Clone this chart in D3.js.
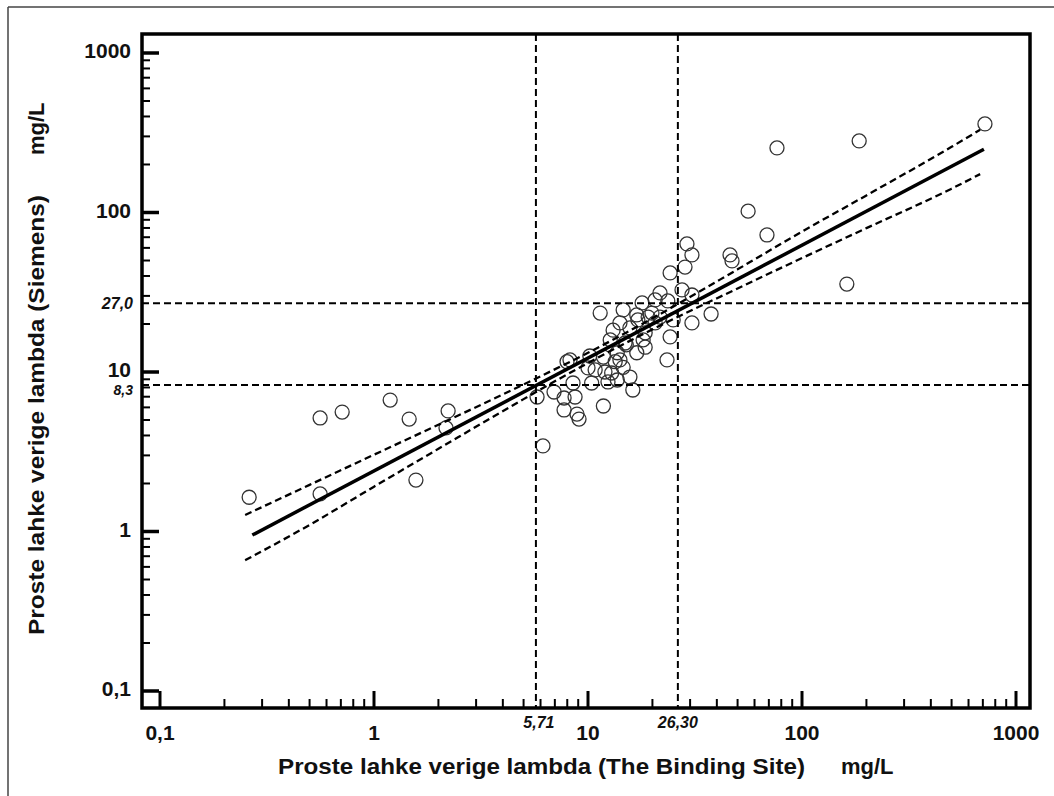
<!DOCTYPE html>
<html>
<head>
<meta charset="utf-8">
<script src="https://cdn.jsdelivr.net/npm/d3@7/dist/d3.min.js"></script>
<style>
  html, body { margin: 0; padding: 0; background: #fff; }
  svg { display: block; }
  text { font-family: "Liberation Sans", Arial, sans-serif; font-weight: bold; fill: #111; }
</style>
</head>
<body>
<svg id="chart" width="1054" height="796"></svg>
<script>
// Free lambda light chains: The Binding Site (x) vs Siemens (y), mg/L
const pointsX = [
  0.261, 0.56, 0.56, 0.71, 1.19, 1.46, 1.57, 2.22, 2.17,
  716, 185, 76.4, 56, 68.6, 46.1, 47.1, 162,
  29.0, 30.6, 28.4, 27.5, 30.6, 37.6, 30.6,
  24.2, 11.4, 14.6, 17.9, 20.6, 21.7, 23.6, 14.1, 16.9, 19.9,
  20.6, 13.1, 15.7, 18.5, 24.2, 25.0, 18.1, 18.5, 23.4, 12.7,
  14.9, 11.8, 14.1, 16.9, 14.6, 12.0, 10.8, 13.7, 15.7, 16.2,
  8.24, 7.98, 10.0, 13.4, 12.4, 10.4, 8.51, 6.94, 5.78, 7.73,
  8.70, 7.73, 8.88, 9.08, 11.8, 6.16, 12.9, 21.7, 17.1, 15.1,
  19.1, 13.7, 10.2
];
const pointsY = [
  1.64, 1.72, 5.15, 5.61, 6.67, 5.07, 2.10, 5.7, 4.46,
  359, 281, 254, 102, 72.3, 54.2, 49.7, 35.6,
  63.5, 54.2, 45.5, 32.7, 30.4, 23.1, 20.3,
  41.8, 23.4, 24.5, 27.1, 28.3, 31.3, 27.9, 20.3, 22.8, 23.4,
  20.3, 18.3, 18.9, 17.6, 16.6, 21.2, 15.9, 14.3, 11.9, 15.9,
  15.2, 12.4, 11.9, 13.2, 10.7, 10.0, 10.3, 8.91, 9.30, 7.71,
  11.9, 11.6, 10.6, 11.6, 8.66, 8.53, 8.53, 7.49, 6.97, 6.87,
  6.97, 5.78, 5.45, 5.07, 6.12, 3.44, 9.86, 22.1, 21.2, 14.8,
  22.1, 13.2, 12.6
];

// Regression line end points
const fitX = [0.27, 708];
const fitY = [0.95, 249];

// 95% confidence band
const bandX     = [0.25, 0.5, 1, 2, 5, 10, 20, 50, 100, 200, 500, 680];
const bandUpper = [1.27, 1.96, 3.03, 4.67, 8.35, 13.2, 21.7, 44.0, 75.9, 128, 258, 330];
const bandLower = [0.66, 1.10, 1.91, 3.30, 6.76, 11.4, 18.5, 33.4, 51.8, 79.8, 141, 174];

// Cut-off values
const cutX = [5.71, 26.30];
const cutXLabels = ["5,71", "26,30"];
const cutY = [27.0, 8.3];
const cutYLabels = ["27,0", "8,3"];

// Decade labels
const decades = [0.1, 1, 10, 100, 1000];
const decadeLabels = ["0,1", "1", "10", "100", "1000"];

const xTitle = "Proste lahke verige lambda (The Binding Site)";
const yTitle = "Proste lahke verige lambda (Siemens)";
const unit = "mg/L";

const svg = d3.select("#chart");

const frame = { left: 142, right: 1030, top: 34, bottom: 708 };
const x = d3.scaleLog().domain([0.1, 1000]).range([160, 1016]);
const y = d3.scaleLog().domain([0.1, 1000]).range([691, 53]);

// outer border lines
svg.append("line").attr("x1", 8).attr("x2", 8).attr("y1", 7).attr("y2", 796)
  .attr("stroke", "#444").attr("stroke-width", 1.5);
svg.append("line").attr("x1", 8).attr("x2", 1054).attr("y1", 7).attr("y2", 7)
  .attr("stroke", "#444").attr("stroke-width", 1.5);

// minor ticks (2..9 in each decade)
const minors = [];
decades.slice(0, -1).forEach(d => { for (let k = 2; k <= 9; k++) minors.push(d * k); });

const g = svg.append("g");

// x ticks (pointing up from bottom axis)
g.selectAll(".xminor").data(minors).join("line")
  .attr("x1", d => x(d)).attr("x2", d => x(d))
  .attr("y1", frame.bottom).attr("y2", frame.bottom - 9)
  .attr("stroke", "#000").attr("stroke-width", 2);
g.selectAll(".xmajor").data(decades).join("line")
  .attr("x1", d => x(d)).attr("x2", d => x(d))
  .attr("y1", frame.bottom).attr("y2", frame.bottom - 17)
  .attr("stroke", "#000").attr("stroke-width", 3);

// y ticks (pointing right from left axis)
g.selectAll(".yminor").data(minors).join("line")
  .attr("y1", d => y(d)).attr("y2", d => y(d))
  .attr("x1", frame.left).attr("x2", frame.left + 8)
  .attr("stroke", "#000").attr("stroke-width", 2);
g.selectAll(".ymajor").data(decades).join("line")
  .attr("y1", d => y(d)).attr("y2", d => y(d))
  .attr("x1", frame.left).attr("x2", frame.left + 17)
  .attr("stroke", "#000").attr("stroke-width", 3.5);

// data points
g.selectAll("circle").data(pointsX.map((v, i) => [v, pointsY[i]])).join("circle")
  .attr("cx", d => x(d[0])).attr("cy", d => y(d[1])).attr("r", 7)
  .attr("fill", "none").attr("stroke", "#333").attr("stroke-width", 1.3);

// cut-off lines
g.selectAll(".cutx").data(cutX).join("line")
  .attr("x1", d => x(d)).attr("x2", d => x(d))
  .attr("y1", frame.top).attr("y2", frame.bottom)
  .attr("stroke", "#000").attr("stroke-width", 2).attr("stroke-dasharray", "7,4");
g.selectAll(".cuty").data(cutY).join("line")
  .attr("y1", d => y(d)).attr("y2", d => y(d))
  .attr("x1", frame.left).attr("x2", frame.right)
  .attr("stroke", "#000").attr("stroke-width", 2).attr("stroke-dasharray", "7,4");

// confidence band
const bandLine = d3.line().x(d => x(d[0])).y(d => y(d[1])).curve(d3.curveMonotoneX);
[bandUpper, bandLower].forEach(arr => {
  g.append("path").datum(bandX.map((v, i) => [v, arr[i]]))
    .attr("d", bandLine).attr("fill", "none")
    .attr("stroke", "#000").attr("stroke-width", 2.3).attr("stroke-dasharray", "7,4");
});

// regression line
g.append("path").datum(fitX.map((v, i) => [v, fitY[i]]))
  .attr("d", d3.line().x(d => x(d[0])).y(d => y(d[1])))
  .attr("fill", "none").attr("stroke", "#000").attr("stroke-width", 3.5);

// plot frame
g.append("rect")
  .attr("x", frame.left).attr("y", frame.top)
  .attr("width", frame.right - frame.left).attr("height", frame.bottom - frame.top)
  .attr("fill", "none").attr("stroke", "#000").attr("stroke-width", 3.5);

// tick labels
svg.selectAll(".xlab").data(decades).join("text")
  .attr("x", d => x(d)).attr("y", 740).attr("text-anchor", "middle")
  .style("font-size", "21px").text((d, i) => decadeLabels[i]);
svg.selectAll(".ylab").data(decades).join("text")
  .attr("x", 131).attr("y", d => y(d) + 5).attr("text-anchor", "end")
  .style("font-size", "21px").text((d, i) => decadeLabels[i]);

// cut-off labels
svg.selectAll(".cxl").data(cutX).join("text")
  .attr("x", (d, i) => x(d) + (i === 0 ? 3 : 0)).attr("y", 728).attr("text-anchor", "middle")
  .style("font-size", "16px").style("font-style", "italic").text((d, i) => cutXLabels[i]);
svg.selectAll(".cyl").data(cutY).join("text")
  .attr("x", 133).attr("y", (d, i) => y(d) + (i === 0 ? 6 : 10)).attr("text-anchor", "end")
  .style("font-size", (d, i) => i === 0 ? "16px" : "14px")
  .style("font-style", "italic").text((d, i) => cutYLabels[i]);

// axis titles
svg.append("text").attr("x", 278).attr("y", 774)
  .attr("textLength", 527).attr("lengthAdjust", "spacingAndGlyphs")
  .style("font-size", "22px").text(xTitle);
svg.append("text").attr("x", 841).attr("y", 774)
  .style("font-size", "22px").text(unit);

svg.append("text").attr("transform", "translate(44,635) rotate(-90)")
  .attr("textLength", 440).attr("lengthAdjust", "spacingAndGlyphs")
  .style("font-size", "22px").text(yTitle);
svg.append("text").attr("transform", "translate(44,155) rotate(-90)")
  .style("font-size", "22px").text(unit);
</script>
</body>
</html>
